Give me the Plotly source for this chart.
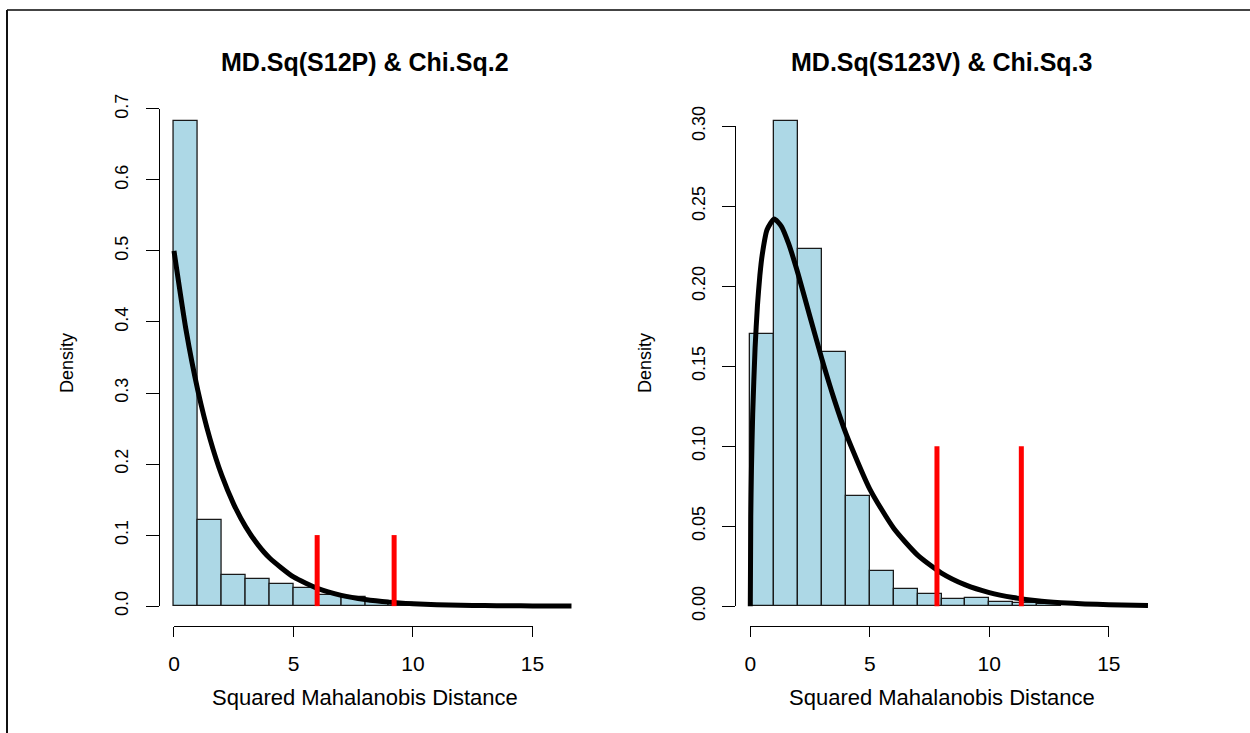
import plotly.graph_objects as go

W, H = 1250, 733

# ---------------- data ----------------
left_title = "MD.Sq(S12P) & Chi.Sq.2"
right_title = "MD.Sq(S123V) & Chi.Sq.3"
x_label = "Squared Mahalanobis Distance"
y_label = "Density"

left_bin_edges = [0, 1, 2, 3, 4, 5, 6, 7, 8, 9, 10, 11, 12]
left_density = [0.683, 0.121, 0.044, 0.0376, 0.031, 0.0254, 0.0155, 0.0122, 0.007, 0.004, 0.002, 0.001]

right_bin_edges = [0, 1, 2, 3, 4, 5, 6, 7, 8, 9, 10, 11, 12, 13]
right_density = [0.170, 0.303, 0.223, 0.159, 0.069, 0.0221, 0.0108, 0.0077, 0.0046, 0.0054, 0.0025, 0.0021, 0.0013]

# chi-square density curves
left_curve_x = [0, 0.5, 1, 1.5, 2, 2.5, 3, 3.5, 4, 5, 6, 7, 8, 9, 10, 11, 12, 13, 14, 15, 16.64]
left_curve_y = [0.5, 0.3894, 0.3033, 0.2362, 0.1839, 0.1433, 0.1116, 0.0869, 0.0677, 0.0410, 0.0249,
                0.0151, 0.0092, 0.0056, 0.0034, 0.0020, 0.0012, 0.0008, 0.0005, 0.0003, 0.0001]

right_curve_x = [0, 0.02, 0.05, 0.1, 0.2, 0.3, 0.4, 0.5, 0.7, 1, 1.3, 1.6, 2, 2.5, 3, 3.5, 4, 5, 6, 7, 8,
                 9, 10, 11, 12, 13, 14, 15, 16.64]
right_curve_y = [0, 0.0559, 0.0870, 0.1200, 0.1614, 0.1881, 0.2066, 0.2197, 0.2352, 0.2420, 0.2374,
                 0.2267, 0.2076, 0.1807, 0.1542, 0.1297, 0.1080, 0.0732, 0.0487, 0.0319, 0.0207,
                 0.0133, 0.0085, 0.0054, 0.0034, 0.0022, 0.0014, 0.0009, 0.0004]

left_crit = [5.99, 9.21]
right_crit = [7.81, 11.34]
crit_height = 0.1

x_ticks = [0, 5, 10, 15]
left_y_ticks = [0.0, 0.1, 0.2, 0.3, 0.4, 0.5, 0.6, 0.7]
left_y_ticktext = ["0.0", "0.1", "0.2", "0.3", "0.4", "0.5", "0.6", "0.7"]
right_y_ticks = [0.0, 0.05, 0.10, 0.15, 0.20, 0.25, 0.30]
right_y_ticktext = ["0.00", "0.05", "0.10", "0.15", "0.20", "0.25", "0.30"]

# ---------------- layout geometry (pixels) ----------------
def fx(px):
    return px / W

def fy(py):
    return 1 - py / H

X_RANGE = [-0.64, 16.64]
PLOT_TOP, PLOT_BOT = 89, 626
L_LEFT, L_RIGHT = 158.7, 571.7
R_LEFT, R_RIGHT = 735.0, 1148.0
PX_PER_X = (L_RIGHT - L_LEFT) / (X_RANGE[1] - X_RANGE[0])

left_y_range = [-0.028, 0.728]
right_y_range = [-0.0124, 0.3232]

def y_to_px(v, yr):
    return PLOT_BOT - (v - yr[0]) / (yr[1] - yr[0]) * (PLOT_BOT - PLOT_TOP)

def x_to_px(v, left):
    return left + (v - X_RANGE[0]) * PX_PER_X

FONT = "Liberation Sans, Arial, Helvetica, sans-serif"
BAR_FILL = "#ADD8E6"

fig = go.Figure()

def add_panel(edges, dens, cx, cy, crit, xa, ya):
    centers = [(edges[i] + edges[i + 1]) / 2 for i in range(len(dens))]
    widths = [edges[i + 1] - edges[i] for i in range(len(dens))]
    fig.add_trace(go.Bar(x=centers, y=dens, width=widths, xaxis=xa, yaxis=ya,
                         marker=dict(color=BAR_FILL, line=dict(color="#1a1a1a", width=1.3)),
                         showlegend=False, hoverinfo="skip"))
    fig.add_trace(go.Scatter(x=cx, y=cy, mode="lines", xaxis=xa, yaxis=ya,
                             line=dict(color="black", width=5, shape="spline", smoothing=0.6),
                             showlegend=False, hoverinfo="skip"))
    for c in crit:
        fig.add_trace(go.Scatter(x=[c, c], y=[0, crit_height], mode="lines", xaxis=xa, yaxis=ya,
                                 line=dict(color="#FF0000", width=5),
                                 showlegend=False, hoverinfo="skip"))

add_panel(left_bin_edges, left_density, left_curve_x, left_curve_y, left_crit, "x", "y")
add_panel(right_bin_edges, right_density, right_curve_x, right_curve_y, right_crit, "x2", "y2")

# dummy traces for the R-style axes
fig.add_trace(go.Scatter(x=[0, 15], y=[0, 0.7], mode="markers", marker=dict(opacity=0),
                         xaxis="x3", yaxis="y3", showlegend=False, hoverinfo="skip"))
fig.add_trace(go.Scatter(x=[0, 15], y=[0, 0.3], mode="markers", marker=dict(opacity=0),
                         xaxis="x4", yaxis="y4", showlegend=False, hoverinfo="skip"))

hidden = dict(visible=False, showgrid=False, zeroline=False, fixedrange=True, automargin=False)

def xtick_axis(left, pos):
    return dict(domain=[fx(x_to_px(0, left)), fx(x_to_px(15, left))], range=[0, 15],
                anchor="free", position=pos, showline=True, linecolor="black", linewidth=1.2,
                ticks="outside", ticklen=10, tickwidth=1.2, tickcolor="black",
                tickvals=x_ticks, ticktext=[str(t) for t in x_ticks],
                tickfont=dict(family=FONT, size=21, color="black"), ticklabelstandoff=9,
                showgrid=False, zeroline=False, fixedrange=True, automargin=False)

def ytick_axis(yr, ticks, text, pos):
    return dict(domain=[fy(y_to_px(ticks[0], yr)), fy(y_to_px(ticks[-1], yr))], range=[ticks[0], ticks[-1]],
                anchor="free", position=pos, side="left", showline=True, linecolor="black", linewidth=1.2,
                ticks="outside", ticklen=13, tickwidth=1.2, tickcolor="black",
                tickvals=ticks, ticktext=text, tickangle=-90,
                tickfont=dict(family=FONT, size=18, color="black"), ticklabelstandoff=10,
                showgrid=False, zeroline=False, fixedrange=True, automargin=False)

fig.update_layout(
    template="none",
    width=W, height=H, margin=dict(l=0, r=0, t=0, b=0, pad=0, autoexpand=False),
    paper_bgcolor="white", plot_bgcolor="rgba(0,0,0,0)",
    barmode="overlay", bargap=0,
    xaxis=dict(domain=[fx(L_LEFT), fx(L_RIGHT)], range=X_RANGE, anchor="y", **hidden),
    yaxis=dict(domain=[fy(PLOT_BOT), fy(PLOT_TOP)], range=left_y_range, anchor="x", **hidden),
    xaxis2=dict(domain=[fx(R_LEFT), fx(R_RIGHT)], range=X_RANGE, anchor="y2", **hidden),
    yaxis2=dict(domain=[fy(PLOT_BOT), fy(PLOT_TOP)], range=right_y_range, anchor="x2", **hidden),
    xaxis3=xtick_axis(L_LEFT, fy(PLOT_BOT)),
    yaxis3=ytick_axis(left_y_range, left_y_ticks, left_y_ticktext, fx(L_LEFT)),
    xaxis4=xtick_axis(R_LEFT, fy(PLOT_BOT)),
    yaxis4=ytick_axis(right_y_range, right_y_ticks, right_y_ticktext, fx(R_LEFT)),
    showlegend=False,
)

annotations = []
for left, right, title in [(L_LEFT, L_RIGHT, left_title), (R_LEFT, R_RIGHT, right_title)]:
    cxp = (left + right) / 2
    annotations.append(dict(text="<b>" + title + "</b>", x=fx(cxp), y=fy(62), xref="paper", yref="paper",
                            xanchor="center", yanchor="middle", showarrow=False,
                            font=dict(family=FONT, size=25, color="black")))
    annotations.append(dict(text=x_label, x=fx(cxp), y=fy(697), xref="paper", yref="paper",
                            xanchor="center", yanchor="middle", showarrow=False,
                            font=dict(family=FONT, size=22, color="black")))
for xp in (67, 645):
    annotations.append(dict(text=y_label, x=fx(xp), y=fy(363), xref="paper", yref="paper",
                            xanchor="center", yanchor="middle", showarrow=False, textangle=-90,
                            font=dict(family=FONT, size=18, color="black")))
fig.update_layout(annotations=annotations)

# outer frame (top and left edges visible)
fig.add_shape(type="line", xref="paper", yref="paper", x0=fx(7), x1=1.0, y0=fy(10), y1=fy(10),
              line=dict(color="#444444", width=2))
fig.add_shape(type="line", xref="paper", yref="paper", x0=fx(7), x1=fx(7), y0=fy(10), y1=0,
              line=dict(color="#111111", width=2))

fig.write_html("out.html", config={"displayModeBar": False},
               post_script="document.body.style.margin='0';document.body.style.overflow='hidden';")
